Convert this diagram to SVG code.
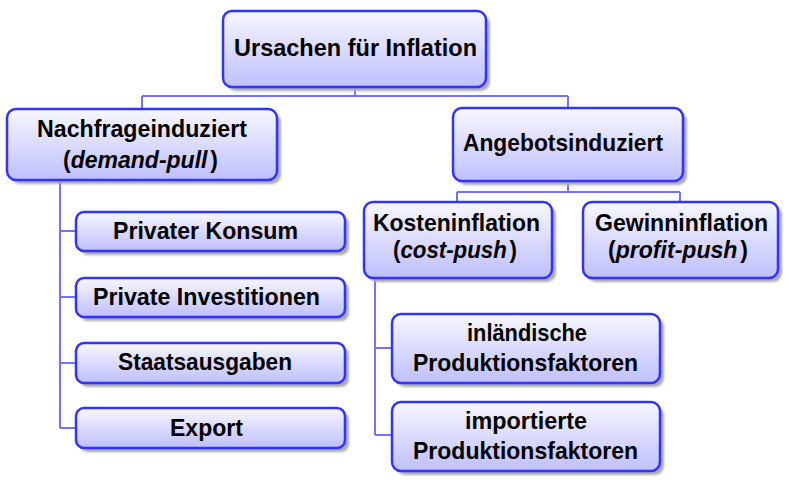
<svg xmlns="http://www.w3.org/2000/svg" width="789" height="480" viewBox="0 0 789 480">
<defs>
<linearGradient id="g" x1="0" y1="0" x2="0" y2="1">
<stop offset="0" stop-color="#f7f7ff"/>
<stop offset="1" stop-color="#bfbfff"/>
</linearGradient>
<filter id="blur" x="-10%" y="-10%" width="120%" height="130%"><feGaussianBlur stdDeviation="1"/></filter>
</defs>
<style>
.sh{fill:#aaaaaa;filter:url(#blur)}
.bx{fill:url(#g);stroke:#3333ff;stroke-width:2.5}
.t{font-family:"Liberation Sans",Arial,sans-serif;font-weight:bold;font-size:24px;fill:#000;text-anchor:middle}
.i{font-style:italic}
.c{fill:none;stroke:#7373ff;stroke-width:2}
</style>
<g id="connectors">
<path class="c" d="M355 87V96M142 96H568M142 96V109M568 96V108"/>
<path class="c" d="M60 180V428M60 231H76M60 297H76M60 363H76M60 428H76"/>
<path class="c" d="M568 181V192M457 192H680M457 192V202M680 192V202"/>
<path class="c" d="M375 278V435M375 348H392M375 435H392"/>
</g>
<g id="root">
<rect class="sh" x="227" y="15" width="263" height="76" rx="9"/>
<rect class="bx" x="223" y="11" width="263" height="76" rx="9"/>
<text class="t" x="355.5" y="56" textLength="243" lengthAdjust="spacingAndGlyphs">Ursachen für Inflation</text>
</g>
<g id="nachfrage">
<rect class="sh" x="11" y="113" width="270" height="71" rx="9"/>
<rect class="bx" x="7" y="109" width="270" height="71" rx="9"/>
<text class="t" x="142" y="137" textLength="210" lengthAdjust="spacingAndGlyphs">Nachfrageinduziert</text>
<text class="t" x="140.5" y="168" textLength="155" lengthAdjust="spacingAndGlyphs">(<tspan class="i">demand-pull</tspan><tspan dx="3">)</tspan></text>
</g>
<g id="angebot">
<rect class="sh" x="457" y="112" width="230" height="73" rx="9"/>
<rect class="bx" x="453" y="108" width="230" height="73" rx="9"/>
<text class="t" x="563" y="151" textLength="200" lengthAdjust="spacingAndGlyphs">Angebotsinduziert</text>
</g>
<g id="kosten">
<rect class="sh" x="368" y="206" width="188" height="76" rx="9"/>
<rect class="bx" x="364" y="202" width="188" height="76" rx="9"/>
<text class="t" x="456.5" y="231" textLength="167" lengthAdjust="spacingAndGlyphs">Kosteninflation</text>
<text class="t" x="455" y="258" textLength="124" lengthAdjust="spacingAndGlyphs">(<tspan class="i">cost-push</tspan><tspan dx="3">)</tspan></text>
</g>
<g id="gewinn">
<rect class="sh" x="587" y="206" width="195" height="76" rx="9"/>
<rect class="bx" x="583" y="202" width="195" height="76" rx="9"/>
<text class="t" x="681.5" y="231" textLength="173" lengthAdjust="spacingAndGlyphs">Gewinninflation</text>
<text class="t" x="678" y="258" textLength="140" lengthAdjust="spacingAndGlyphs">(<tspan class="i">profit-push</tspan><tspan dx="3">)</tspan></text>
</g>
<g id="konsum">
<rect class="sh" x="80" y="216" width="269" height="39" rx="8"/>
<rect class="bx" x="76" y="212" width="269" height="39" rx="8"/>
<text class="t" x="205.5" y="239" textLength="185" lengthAdjust="spacingAndGlyphs">Privater Konsum</text>
</g>
<g id="investitionen">
<rect class="sh" x="80" y="282" width="269" height="39" rx="8"/>
<rect class="bx" x="76" y="278" width="269" height="39" rx="8"/>
<text class="t" x="206.5" y="305" textLength="227" lengthAdjust="spacingAndGlyphs">Private Investitionen</text>
</g>
<g id="staat">
<rect class="sh" x="80" y="347" width="269" height="40" rx="8"/>
<rect class="bx" x="76" y="343" width="269" height="40" rx="8"/>
<text class="t" x="205" y="370" textLength="174" lengthAdjust="spacingAndGlyphs">Staatsausgaben</text>
</g>
<g id="export">
<rect class="sh" x="80" y="412" width="269" height="40" rx="8"/>
<rect class="bx" x="76" y="408" width="269" height="40" rx="8"/>
<text class="t" x="206.5" y="436" textLength="73" lengthAdjust="spacingAndGlyphs">Export</text>
</g>
<g id="inland">
<rect class="sh" x="396" y="318" width="268" height="69" rx="9"/>
<rect class="bx" x="392" y="314" width="268" height="69" rx="9"/>
<text class="t" x="527" y="341" textLength="120" lengthAdjust="spacingAndGlyphs">inländische</text>
<text class="t" x="525.5" y="371" textLength="225" lengthAdjust="spacingAndGlyphs">Produktionsfaktoren</text>
</g>
<g id="import">
<rect class="sh" x="396" y="406" width="268" height="69" rx="9"/>
<rect class="bx" x="392" y="402" width="268" height="69" rx="9"/>
<text class="t" x="526" y="429" textLength="122" lengthAdjust="spacingAndGlyphs">importierte</text>
<text class="t" x="525.5" y="459" textLength="225" lengthAdjust="spacingAndGlyphs">Produktionsfaktoren</text>
</g>
</svg>
